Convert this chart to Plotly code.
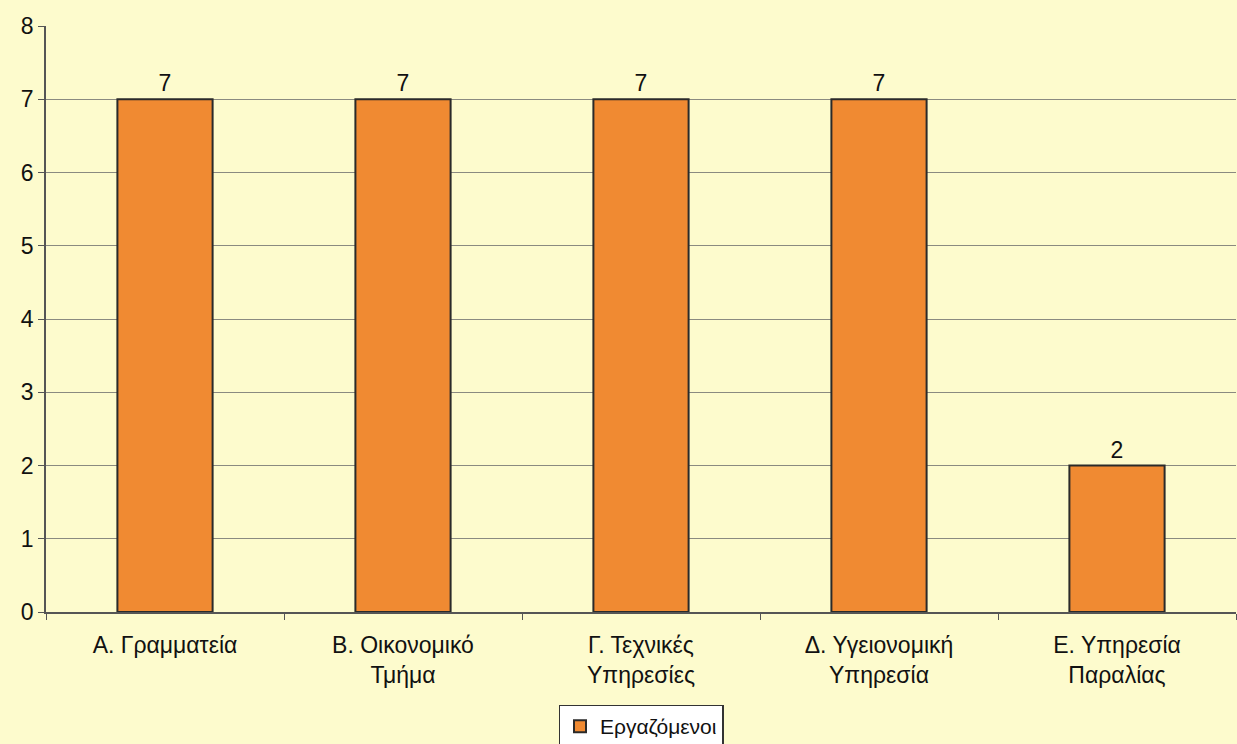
import plotly.graph_objects as go

categories = ["Α. Γραμματεία", "Β. Οικονομικό<br>Τμήμα", "Γ. Τεχνικές<br>Υπηρεσίες",
              "Δ. Υγειονομική<br>Υπηρεσία", "Ε. Υπηρεσία<br>Παραλίας"]
employees = [7, 7, 7, 7, 2]

bg = "#FDFBCD"
font = dict(family="Liberation Sans, Arial, sans-serif", size=23, color="#111111")

fig = go.Figure()
fig.add_trace(go.Bar(
    x=categories,
    y=employees,
    name="Εργαζόμενοι",
    marker=dict(color="#F08A32", line=dict(color="#2a2a2a", width=2)),
    text=employees,
    textposition="outside",
    textfont=font,
    cliponaxis=False,
))

fig.update_layout(
    width=1237, height=744,
    margin=dict(l=46, r=1, t=26, b=132, autoexpand=False),
    paper_bgcolor=bg,
    plot_bgcolor=bg,
    font=font,
    bargap=0.6,
    showlegend=True,
    legend=dict(
        orientation="h", x=0.5, xanchor="center", y=-0.158, yanchor="top",
        bgcolor="#FFFFFF", bordercolor="#333333", borderwidth=1.5,
        font=dict(family="Liberation Sans, Arial, sans-serif", size=21, color="#111111"),
        itemwidth=30,
    ),
    xaxis=dict(
        showline=True, linecolor="#555555", linewidth=1.5,
        ticks="outside", ticklen=6, tickcolor="#555555",
        tickson="boundaries", showgrid=False,
        ticklabelstandoff=12,
        tickfont=font,
    ),
    yaxis=dict(
        range=[0, 8], dtick=1,
        showline=True, linecolor="#555555", linewidth=1.5,
        ticks="outside", ticklen=6, tickcolor="#555555",
        showgrid=True, gridcolor="#8a8a80", gridwidth=1,
        zeroline=False,
        tickfont=font,
    ),
)

fig.write_html("out.html", config={"displayModeBar": False},
               post_script="document.body.style.margin='0';")
